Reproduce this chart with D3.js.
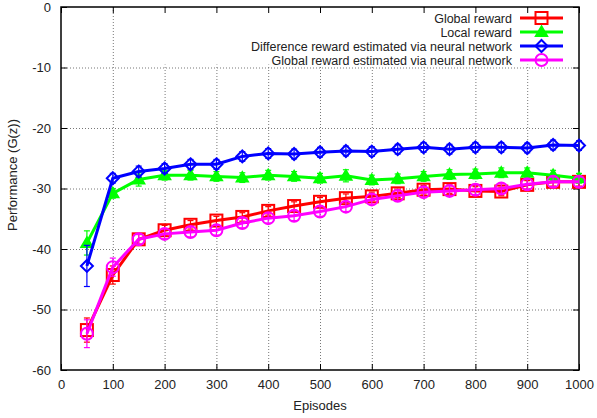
<!DOCTYPE html>
<html>
<head>
<meta charset="utf-8">
<script src="https://cdn.jsdelivr.net/npm/d3@7"></script>
<style>
  body { margin: 0; background: #fff; }
  svg { display: block; font-family: "Liberation Sans", Arial, sans-serif; }
</style>
</head>
<body>
<div id="chart"></div>
<script>
// Data
const episodes = [50, 100, 150, 200, 250, 300, 350, 400, 450, 500, 550, 600, 650, 700, 750, 800, 850, 900, 950, 1000];

const globalReward = [-53.4, -44.3, -38.4, -36.9, -36.0, -35.3, -34.7, -33.7, -32.9, -32.2, -31.6, -31.3, -30.8, -30.2, -30.1, -30.4, -30.5, -29.4, -28.9, -28.9];
const globalErr    = [2.0, 1.5, 0.8, 0.8, 0.7, 0.7, 0.7, 0.7, 0.7, 0.7, 0.7, 0.7, 0.7, 0.7, 0.7, 0.7, 0.7, 0.7, 0.7, 0.7];

const localReward = [-39.0, -30.8, -28.5, -27.8, -27.8, -28.0, -28.2, -27.8, -28.0, -28.3, -27.9, -28.6, -28.4, -28.0, -27.7, -27.6, -27.4, -27.4, -27.8, -28.3];
const localErr    = [2.0, 0.8, 1.1, 0.8, 0.8, 0.8, 0.8, 0.8, 0.8, 0.8, 1.0, 0.8, 0.8, 0.8, 0.8, 0.8, 0.8, 0.8, 0.8, 0.8];

const diffNN = [-42.8, -28.3, -27.2, -26.7, -26.0, -26.0, -24.7, -24.2, -24.3, -24.0, -23.8, -23.9, -23.5, -23.2, -23.5, -23.2, -23.2, -23.3, -22.8, -22.9];
const diffErr = [3.4, 0.8, 0.9, 0.8, 0.8, 0.8, 0.8, 0.8, 0.8, 0.8, 0.8, 0.8, 0.8, 0.8, 0.8, 0.8, 0.8, 0.8, 0.8, 0.8];

const globalNN = [-54.0, -43.0, -38.4, -37.5, -37.2, -36.9, -35.7, -34.9, -34.5, -33.8, -33.0, -31.8, -31.2, -30.6, -30.4, -30.2, -30.0, -29.3, -28.9, -28.9];
const globalNNErr = [2.3, 1.5, 0.8, 0.8, 0.8, 0.8, 0.8, 0.8, 0.8, 0.8, 0.8, 0.8, 0.8, 0.8, 0.8, 0.8, 0.8, 0.8, 0.8, 0.8];

const seriesNames = ['Global reward', 'Local reward', 'Difference reward estimated via neural network', 'Global reward estimated via neural network'];
const seriesColors = ['#ff0000', '#00ff00', '#0000ff', '#ff00ff'];
const seriesMarkers = ['square', 'triangle', 'diamond', 'circle'];

const xTicks = [0, 100, 200, 300, 400, 500, 600, 700, 800, 900, 1000];
const yTicks = [0, -10, -20, -30, -40, -50, -60];

const series = [
    { values: globalReward, errors: globalErr },
    { values: localReward, errors: localErr },
    { values: diffNN, errors: diffErr },
    { values: globalNN, errors: globalNNErr }
].map((s, i) => ({ ...s, name: seriesNames[i], color: seriesColors[i], marker: seriesMarkers[i] }));

const outerWidth = 597;
const outerHeight = 418;
const margin = { top: 7, right: 18, bottom: 48, left: 61 };
const width = outerWidth - margin.left - margin.right;
const height = outerHeight - margin.top - margin.bottom;
const fontSize = 13;
const textColor = '#222';

const svg = d3.select('#chart').append('svg')
    .attr('width', outerWidth)
    .attr('height', outerHeight);

const g = svg.append('g')
    .attr('transform', `translate(${margin.left}, ${margin.top})`);

// Scales
const x = d3.scaleLinear().domain([0, 1000]).range([0, width]);
const y = d3.scaleLinear().domain([-60, 0]).range([height, 0]);

// Grid
const grid = g.append('g').attr('stroke', '#777').attr('stroke-width', 1).attr('stroke-dasharray', '1,2');
xTicks.slice(1, -1).forEach(t => {
    grid.append('line')
        .attr('x1', x(t) + 0.5).attr('x2', x(t) + 0.5)
        .attr('y1', 0).attr('y2', height);
});
yTicks.slice(1, -1).forEach(t => {
    grid.append('line')
        .attr('x1', 0).attr('x2', width)
        .attr('y1', y(t) + 0.5).attr('y2', y(t) + 0.5);
});

// Opaque key area hides grid behind the legend
g.append('rect')
    .attr('x', 80).attr('y', 1)
    .attr('width', width - 82).attr('height', y(-10) - 4)
    .attr('fill', '#fff');

// Axes with inward ticks, mirrored
const tickLen = 6;
const plain = d => String(d);
const axisStyle = sel => {
    sel.select('.domain').remove();
    sel.selectAll('.tick line').attr('stroke', '#000');
    sel.selectAll('.tick text').attr('font-size', fontSize).attr('fill', textColor)
        .attr('font-family', '"Liberation Sans", Arial, sans-serif');
};

g.append('g')
    .attr('transform', `translate(0, ${height})`)
    .call(d3.axisBottom(x).tickValues(xTicks).tickFormat(plain).tickSizeInner(-tickLen).tickSizeOuter(0).tickPadding(10))
    .call(axisStyle);
g.append('g')
    .call(d3.axisTop(x).tickValues(xTicks).tickSizeInner(-tickLen).tickSizeOuter(0).tickFormat(''))
    .call(axisStyle);
g.append('g')
    .call(d3.axisLeft(y).tickValues(yTicks).tickFormat(plain).tickSizeInner(-tickLen).tickSizeOuter(0).tickPadding(10))
    .call(axisStyle);
g.append('g')
    .attr('transform', `translate(${width}, 0)`)
    .call(d3.axisRight(y).tickValues(yTicks).tickSizeInner(-tickLen).tickSizeOuter(0).tickFormat(''))
    .call(axisStyle);

// Border
g.append('rect')
    .attr('x', 0).attr('y', 0)
    .attr('width', width).attr('height', height)
    .attr('fill', 'none').attr('stroke', '#000').attr('stroke-width', 1.5);

// Labels
svg.append('text')
    .attr('x', margin.left + width / 2)
    .attr('y', 410)
    .attr('text-anchor', 'middle')
    .attr('font-size', fontSize)
    .attr('fill', textColor)
    .text('Episodes');
svg.append('text')
    .attr('transform', `translate(17, 175) rotate(-90)`)
    .attr('text-anchor', 'middle')
    .attr('font-size', fontSize)
    .attr('fill', textColor)
    .text('Performance (G(z))');

// Marker drawing
function drawMarker(sel, type, color, cx, cy) {
    const r = 6;
    if (type === 'square') {
        sel.append('rect')
            .attr('x', cx - r).attr('y', cy - r)
            .attr('width', 2 * r).attr('height', 2 * r)
            .attr('fill', 'none').attr('stroke', color).attr('stroke-width', 2);
    } else if (type === 'triangle') {
        sel.append('path')
            .attr('d', `M${cx},${cy - r} L${cx + r},${cy + r * 0.7} L${cx - r},${cy + r * 0.7} Z`)
            .attr('fill', color).attr('stroke', color).attr('stroke-width', 1.5);
    } else if (type === 'diamond') {
        sel.append('path')
            .attr('d', `M${cx},${cy - r} L${cx + r},${cy} L${cx},${cy + r} L${cx - r},${cy} Z`)
            .attr('fill', 'none').attr('stroke', color).attr('stroke-width', 2);
    } else {
        sel.append('circle')
            .attr('cx', cx).attr('cy', cy).attr('r', r)
            .attr('fill', 'none').attr('stroke', color).attr('stroke-width', 2);
    }
}

const line = d3.line()
    .x((d, i) => x(episodes[i]))
    .y(d => y(d));

const plot = g.append('g');
series.forEach(s => {
    const sg = plot.append('g');
    sg.append('path')
        .datum(s.values)
        .attr('d', line)
        .attr('fill', 'none')
        .attr('stroke', s.color)
        .attr('stroke-width', 3)
        .attr('stroke-linejoin', 'round');

    s.values.forEach((v, i) => {
        const px = x(episodes[i]);
        const lo = y(v - s.errors[i]);
        const hi = y(v + s.errors[i]);
        sg.append('line').attr('x1', px).attr('x2', px).attr('y1', lo).attr('y2', hi)
            .attr('stroke', s.color).attr('stroke-width', 1.2);
        [lo, hi].forEach(yy => {
            sg.append('line').attr('x1', px - 3).attr('x2', px + 3).attr('y1', yy).attr('y2', yy)
                .attr('stroke', s.color).attr('stroke-width', 1.2);
        });
        drawMarker(sg, s.marker, s.color, px, y(v));
    });
});

// Legend
const legendFont = 12.5;
const legend = svg.append('g');
series.forEach((s, i) => {
    const ly = 18 + i * 14;
    legend.append('text')
        .attr('x', 512).attr('y', ly + 4.5)
        .attr('text-anchor', 'end')
        .attr('font-size', legendFont)
        .attr('fill', textColor)
        .text(s.name);
    legend.append('line')
        .attr('x1', 520).attr('x2', 563).attr('y1', ly).attr('y2', ly)
        .attr('stroke', s.color).attr('stroke-width', 3);
    drawMarker(legend, s.marker, s.color, 541.5, ly);
});
</script>
</body>
</html>
